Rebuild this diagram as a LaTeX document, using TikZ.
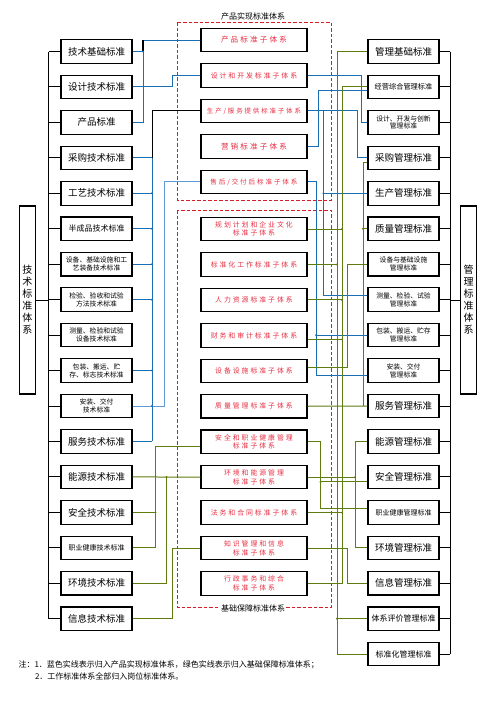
\documentclass[tikz,border=0pt]{standalone}
\usepackage{fontspec}
\setmainfont{Noto Sans CJK SC}
\newfontfamily\subfont[LetterSpace=28]{Noto Sans CJK SC}
\usetikzlibrary{positioning}

\definecolor{stdred}{RGB}{230,45,65}
\definecolor{framered}{RGB}{215,30,40}
\definecolor{lineblue}{RGB}{25,110,180}
\definecolor{lightblue}{RGB}{95,155,215}
\definecolor{linegreen}{RGB}{95,125,15}

\newcommand{\bigtext}{\fontsize{9.5pt}{11pt}\selectfont}
\newcommand{\midtext}{\fontsize{8pt}{9pt}\selectfont}
\newcommand{\smalltext}{\fontsize{6.8pt}{7.8pt}\selectfont}
\newcommand{\subtext}{\subfont\fontsize{6.9pt}{8.6pt}\selectfont}
\newcommand{\notetext}{\fontsize{8pt}{9pt}\selectfont}

\tikzstyle{stdbox} = [
    rectangle,
    minimum width=71pt,
    minimum height=23.5pt,
    inner sep=1pt,
    align=center,
    line width=1.1pt,
    draw=black
]
\tikzstyle{subbox} = [
    rectangle,
    minimum width=106pt,
    minimum height=23.5pt,
    inner sep=1pt,
    align=center,
    text=stdred,
    font=\subtext,
    line width=1.1pt,
    draw=black
]
\tikzstyle{sysbox} = [
    rectangle,
    minimum width=16.5pt,
    minimum height=188pt,
    inner sep=0pt,
    align=center,
    font=\fontsize{10pt}{12pt}\selectfont,
    line width=1.1pt,
    draw=black
]
\tikzstyle{dashframe} = [draw=framered, line width=0.9pt, dash pattern=on 3.5pt off 2pt]
\tikzstyle{bus} = [line width=1pt, draw=black]
\tikzstyle{blueline} = [line width=1pt, draw=lineblue]
\tikzstyle{greenline} = [line width=1pt, draw=linegreen]

\begin{document}
\begin{tikzpicture}[x=1pt, y=-1pt, node distance=35.45pt]

\useasboundingbox (0,0) rectangle (497,702);

% frames
\draw [dashframe] (177,22) rectangle (331,200);
\draw [dashframe] (177,210) rectangle (331,607);

% technical standards
\node (tjc) [stdbox, font=\bigtext] at (96.5,51.5) {技术基础标准};
\node (sjjs) [stdbox, font=\bigtext, below of=tjc] {设计技术标准};
\node (cpbz) [stdbox, font=\bigtext, below of=sjjs] {产品标准};
\node (cgjs) [stdbox, font=\bigtext, below of=cpbz] {采购技术标准};
\node (gyjs) [stdbox, font=\bigtext, below of=cgjs] {工艺技术标准};
\node (bcp) [stdbox, font=\midtext, below of=gyjs] {半成品技术标准};
\node (sbjs) [stdbox, font=\smalltext, below of=bcp] {设备、基础设施和工\\艺装备技术标准};
\node (jyff) [stdbox, font=\smalltext, below of=sbjs] {检验、验收和试验\\方法技术标准};
\node (clsb) [stdbox, font=\smalltext, below of=jyff] {测量、检验和试验\\设备技术标准};
\node (bzjs) [stdbox, font=\smalltext, below of=clsb] {包装、搬运、贮\\存、标志技术标准};
\node (azjs) [stdbox, font=\smalltext, below of=bzjs] {安装、交付\\技术标准};
\node (fwjs) [stdbox, font=\bigtext, below of=azjs] {服务技术标准};
\node (nyjs) [stdbox, font=\bigtext, below of=fwjs] {能源技术标准};
\node (aqjs) [stdbox, font=\bigtext, below of=nyjs] {安全技术标准};
\node (zyjs) [stdbox, font=\fontsize{7pt}{8pt}\selectfont, below of=aqjs] {职业健康技术标准};
\node (hjjs) [stdbox, font=\bigtext, below of=zyjs] {环境技术标准};
\node (xxjs) [stdbox, font=\bigtext, below of=hjjs] {信息技术标准};

\node (techsys) [sysbox] at (27.5,300) {技\\术\\标\\准\\体\\系};

% management standards
\node (glcj) [stdbox, font=\bigtext] at (403.5,51.5) {管理基础标准};
\node (jyzh) [stdbox, font=\fontsize{7.2pt}{8pt}\selectfont, below of=glcj] {经营综合管理标准};
\node (sjkf) [stdbox, font=\smalltext, below of=jyzh] {设计、开发与创新\\管理标准};
\node (cggl) [stdbox, font=\bigtext, below of=sjkf] {采购管理标准};
\node (scgl) [stdbox, font=\bigtext, below of=cggl] {生产管理标准};
\node (zlgl) [stdbox, font=\bigtext, below of=scgl] {质量管理标准};
\node (sbgl) [stdbox, font=\smalltext, below of=zlgl] {设备与基础设施\\管理标准};
\node (clgl) [stdbox, font=\smalltext, below of=sbgl] {测量、检验、试验\\管理标准};
\node (bzgl) [stdbox, font=\smalltext, below of=clgl] {包装、搬运、贮存\\管理标准};
\node (azgl) [stdbox, font=\smalltext, below of=bzgl] {安装、交付\\管理标准};
\node (fwgl) [stdbox, font=\bigtext, below of=azgl] {服务管理标准};
\node (nygl) [stdbox, font=\bigtext, below of=fwgl] {能源管理标准};
\node (aqgl) [stdbox, font=\bigtext, below of=nygl] {安全管理标准};
\node (zygl) [stdbox, font=\fontsize{7pt}{8pt}\selectfont, below of=aqgl] {职业健康管理标准};
\node (hjgl) [stdbox, font=\bigtext, below of=zygl] {环境管理标准};
\node (xxgl) [stdbox, font=\bigtext, below of=hjgl] {信息管理标准};
\node (txpj) [stdbox, font=\midtext, below of=xxgl] {体系评价管理标准};
\node (bzhgl) [stdbox, font=\midtext, below of=txpj] {标准化管理标准};

\node (mgmtsys) [sysbox] at (468.5,300) {管\\理\\标\\准\\体\\系};

% sub-systems
\node (cpsub) [subbox, font=\subfont\fontsize{7.6pt}{9pt}\selectfont] at (254,40) {产品标准子体系};
\node (sjsub) [subbox, below of=cpsub] {设计和开发标准子体系};
\node (scsub) [subbox, font=\subfont\fontsize{6.5pt}{8pt}\selectfont, below of=sjsub] {生产/服务提供标准子体系};
\node (yxsub) [subbox, font=\subfont\fontsize{7.6pt}{9pt}\selectfont, below of=scsub] {营销标准子体系};
\node (shsub) [subbox, font=\subfont\fontsize{6.6pt}{8pt}\selectfont, below of=yxsub] {售后/交付后标准子体系};

\node (ghsub) [subbox] at (254,229) {规划计划和企业文化\\标准子体系};
\node (bzhsub) [subbox, below of=ghsub] {标准化工作标准子体系};
\node (rlsub) [subbox, below of=bzhsub] {人力资源标准子体系};
\node (cwsub) [subbox, below of=rlsub] {财务和审计标准子体系};
\node (sbsub) [subbox, below of=cwsub] {设备设施标准子体系};
\node (zlsub) [subbox, below of=sbsub] {质量管理标准子体系};
\node (aqsub) [subbox, below of=zlsub] {安全和职业健康管理\\标准子体系};
\node (hnsub) [subbox, below of=aqsub] {环境和能源管理\\标准子体系};
\node (fwsub) [subbox, below of=hnsub] {法务和合同标准子体系};
\node (zssub) [subbox, below of=fwsub] {知识管理和信息\\标准子体系};
\node (xzsub) [subbox, below of=zssub] {行政事务和综合\\标准子体系};

\node (prodlabel) [fill=white, inner sep=1pt, font=\notetext] at (253,16) {产品实现标准体系};
\node (baselabel) [fill=white, inner sep=1pt, font=\notetext] at (253,608) {基础保障标准体系};

% buses
\coordinate (lbus) at (48.7,0);
\coordinate (rbus) at (450,0);
\draw [bus] (tjc.west -| lbus) -- (xxjs.west -| lbus);
\foreach \n in {tjc,sjjs,cpbz,cgjs,gyjs,bcp,sbjs,jyff,clsb,bzjs,azjs,fwjs,nyjs,aqjs,zyjs,hjjs,xxjs}
    \draw [bus] (\n.west) -- (\n.west -| lbus);
\draw [bus] (techsys.east) -- (techsys.east -| lbus);
\draw [bus] (glcj.east -| rbus) -- (bzhgl.east -| rbus);
\foreach \n in {glcj,jyzh,sjkf,cggl,scgl,zlgl,sbgl,clgl,bzgl,azgl,fwgl,nygl,aqgl,zygl,hjgl,xxgl,txpj,bzhgl}
    \draw [bus] (\n.east) -- (\n.east -| rbus);
\draw [bus] (mgmtsys.west) -- (mgmtsys.west -| rbus);

% left lanes
\coordinate (cpx) at (143,0);
\coordinate (scx) at (152,0);
\coordinate (aqx) at (155.5,0);
\coordinate (shx) at (164,0);
\coordinate (hnx) at (166.5,0);
\coordinate (sjx) at (172,0);
\coordinate (aqy) at ([yshift=-5pt]aqsub.west);

\draw [blueline] (cpsub.west) -- (cpsub.west -| cpx);
\draw [bus, line width=1.4pt] (cpsub.west -| cpx) -- (tjc.east -| cpx);
\draw [blueline] (tjc.east) -- (tjc.east -| cpx) -- (cpbz.east -| cpx) -- (cpbz.east);
\draw [blueline] (sjjs.east) -| (sjx |- sjsub.west) -- (sjsub.west);
\draw [bus] (scsub.west) -| (scx |- cgjs.east);
\draw [blueline] (scx |- cgjs.east) -- (scx |- fwjs.east);
\foreach \n in {cgjs,gyjs,bcp,sbjs,jyff,bzjs,azjs,fwjs}
    \draw [blueline] (\n.east) -- (\n.east -| scx);
\draw [blueline, draw=lightblue] (azjs.east) -| (shx |- shsub.west) -- (shsub.west);
\draw [greenline] (aqy) -| (aqx |- zyjs.east) -- (zyjs.east);
\draw [greenline] (aqjs.east) -- (aqjs.east -| aqx);
\draw [greenline] (hnsub.west) -- (nyjs.east);
\draw [greenline] (nyjs.east -| hnx) |- (hjjs.east);
\draw [greenline] (zssub.west) -| (sjx |- xxjs.east) -- (xxjs.east);

% right lanes
\coordinate (shrx) at (316,0);
\coordinate (yxrx) at (318.5,0);
\coordinate (aqrx) at (320.5,0);
\coordinate (scrx) at (323.5,0);
\coordinate (bzhrx) at (337,0);
\coordinate (ghrx) at (342,0);
\coordinate (zsrx) at (347,0);
\coordinate (hnrx) at (355,0);
\coordinate (cgrx) at (357.5,0);
\coordinate (sjrx) at (361,0);
\coordinate (zlrx) at (363,0);
\coordinate (jyzhb) at ([yshift=-4pt]jyzh.west);
\coordinate (cgglb) at ([yshift=-5pt]cggl.west);
\coordinate (clglb) at ([yshift=4pt]clgl.west);
\coordinate (azglb) at ([yshift=-5pt]azgl.west);
\coordinate (aqglb) at ([yshift=-5pt]aqgl.west);
\coordinate (zyglb) at ([yshift=4pt]zygl.west);
\coordinate (cwsubb) at ([yshift=-4pt]cwsub.east);
\coordinate (sbsubb) at ([yshift=3pt]sbsub.east);

\draw [blueline] (sjsub.east) -| (sjrx |- sjkf.west) -- (sjkf.west);
\draw [blueline] (yxsub.east) -| (yxrx |- jyzhb) -- (jyzhb);
\draw [blueline] (scsub.east) -| (cgrx |- cggl.west) -- (cggl.west);
\draw [blueline] (scsub.east -| scrx) |- (clglb);
\draw [blueline] (scgl.west) -- (scgl.west -| scrx);
\draw [blueline] (shsub.east) -| (shrx |- azglb) -- (azglb);
\draw [blueline] (bzgl.west) -- (bzgl.west -| shrx);

\draw [greenline] (glcj.west) -| (bzhrx |- bzhgl.west) -- (bzhgl.west);
\draw [greenline] (bzhsub.east) -- (bzhsub.east -| bzhrx);
\draw [greenline] (txpj.west) -- (txpj.west -| bzhrx);
\draw [greenline] (jyzh.west) -| (ghrx |- xzsub.east) -- (xzsub.east);
\draw [greenline] (ghsub.east) -- (ghsub.east -| ghrx);
\draw [greenline] (rlsub.east) -- (rlsub.east -| ghrx);
\draw [greenline] (cwsubb) -- (cwsubb -| ghrx);
\draw [greenline] (fwsub.east) -- (fwsub.east -| ghrx);
\draw [greenline] (zssub.east) -| (zsrx |- xxgl.west) -- (xxgl.west);
\draw [greenline] (sbsubb) -| (zsrx |- sbgl.west) -- (sbgl.west);
\draw [greenline] (zlsub.east) -- (fwgl.west);
\draw [greenline] (zlsub.east -| zlrx) |- (cgglb);
\draw [greenline] (zlgl.west) -- (zlgl.west -| zlrx);
\draw [greenline] (aqsub.east) -| (aqrx |- zyglb) -- (zyglb);
\draw [greenline] (aqglb) -- (aqglb -| aqrx);
\draw [greenline] (hnsub.east) -- (hnsub.east -| hnrx);
\draw [greenline] (nygl.west) -| (hnrx |- hjgl.west) -- (hjgl.west);

% junction dots
\foreach \p in {cpx |- tjc.east, scx |- gyjs.east, scx |- bcp.east, scx |- sbjs.east,
    scx |- jyff.east, scx |- bzjs.east, scx |- azjs.east, scrx |- scgl.west,
    shrx |- bzgl.west}
    \fill [lineblue] (\p) circle (1.1pt);
\foreach \p in {aqx |- aqjs.east, hnx |- nyjs.east, bzhrx |- bzhsub.east,
    bzhrx |- txpj.west, ghrx |- ghsub.east, ghrx |- rlsub.east, ghrx |- cwsubb,
    ghrx |- fwsub.east, zlrx |- zlgl.west, aqrx |- aqglb, hnrx |- hnsub.east}
    \fill [linegreen] (\p) circle (1.1pt);

% note
\node (note1) [anchor=west, font=\notetext] at (15,665)
{注：1．蓝色实线表示归入产品实现标准体系，绿色实线表示归入基础保障标准体系；};
\node (note2) [anchor=west, font=\notetext] at (31.5,676)
{2．工作标准体系全部归入岗位标准体系。};

\end{tikzpicture}
\end{document}
